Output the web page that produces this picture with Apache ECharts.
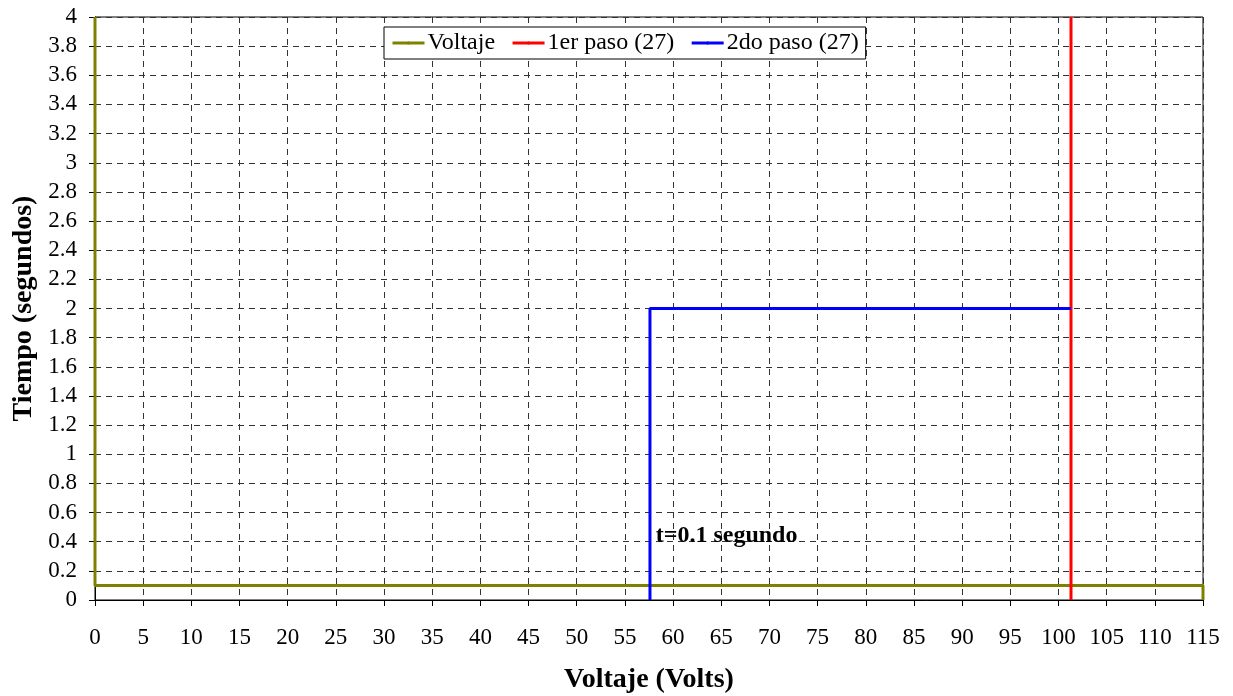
<!DOCTYPE html>
<html>
<head>
<meta charset="utf-8">
<script src="https://cdn.jsdelivr.net/npm/echarts@6/dist/echarts.min.js"></script>
<style>
  html, body { margin: 0; padding: 0; background: #fff; }
  #chart { width: 1233px; height: 696px; }
</style>
</head>
<body>
<div id="chart"></div>
<script>
// datos
const voltajeX = [0, 0, 115, 115]
const voltajeY = [4, 0.1, 0.1, 0]
const paso1X = [101.3, 101.3]
const paso1Y = [0, 4]
const paso2X = [57.6, 57.6, 101.3]
const paso2Y = [0, 2, 2]
const notaX = [58.2]
const notaY = [0.44]
const notaTexto = 't=0.1 segundo'

const font = 'Liberation Serif, Times New Roman, serif'
const zip = (xs, ys) => xs.map((x, i) => [x, ys[i]])

const chart = echarts.init(document.getElementById('chart'))

const option = {
  animation: false,
  backgroundColor: '#fff',
  textStyle: { fontFamily: font },
  grid: {
    left: 95, right: 30, top: 17, bottom: 96,
    outerBoundsMode: 'none',
    containLabel: false,
    show: true, borderColor: '#000', borderWidth: 1, backgroundColor: '#fff'
  },
  legend: {
    left: 384, top: 27,
    padding: [4, 7, 4, 7],
    borderColor: '#000', borderWidth: 1,
    backgroundColor: '#fff',
    itemWidth: 32, itemHeight: 4, itemGap: 16,
    lineStyle: { width: 3 },
    textStyle: { fontFamily: font, fontSize: 24, color: '#000', padding: [0, 0, 0, -2] },
    data: ['Voltaje', '1er paso (27)', '2do paso (27)']
  },
  xAxis: {
    type: 'value', min: 0, max: 115, interval: 5,
    name: 'Voltaje (Volts)', nameLocation: 'middle', nameGap: 66,
    nameTextStyle: { fontFamily: font, fontSize: 28, fontWeight: 'bold', color: '#000' },
    axisLine: { show: true, lineStyle: { color: '#000', width: 1 } },
    axisTick: { show: true, length: 6, lineStyle: { color: '#000' } },
    axisLabel: { fontFamily: font, fontSize: 23, color: '#000', margin: 26 },
    splitLine: { show: true, lineStyle: { color: '#333', type: [6, 5], width: 1 } }
  },
  yAxis: {
    type: 'value', min: 0, max: 4, interval: 0.2,
    name: 'Tiempo (segundos)', nameLocation: 'middle', nameGap: 55,
    nameTextStyle: { fontFamily: font, fontSize: 28, fontWeight: 'bold', color: '#000' },
    axisLine: { show: true, lineStyle: { color: '#000', width: 1 } },
    axisTick: { show: true, length: 6, lineStyle: { color: '#000' } },
    axisLabel: {
      fontFamily: font, fontSize: 23, color: '#000', margin: 18,
      formatter: v => String(Math.round(v * 10) / 10)
    },
    splitLine: { show: true, lineStyle: { color: '#333', type: [6, 5], width: 1 } }
  },
  series: [
    {
      name: 'Voltaje', type: 'line', symbol: 'none',
      data: zip(voltajeX, voltajeY),
      lineStyle: { color: '#808000', width: 3 }, itemStyle: { color: '#808000' }
    },
    {
      name: '1er paso (27)', type: 'line', symbol: 'none',
      data: zip(paso1X, paso1Y),
      lineStyle: { color: '#ff0000', width: 3 }, itemStyle: { color: '#ff0000' }
    },
    {
      name: '2do paso (27)', type: 'line', symbol: 'none',
      data: zip(paso2X, paso2Y),
      lineStyle: { color: '#0000ff', width: 3 }, itemStyle: { color: '#0000ff' }
    },
    {
      name: 'nota', type: 'scatter', symbolSize: 0,
      data: zip(notaX, notaY),
      itemStyle: { opacity: 1, color: '#000' },
      label: {
        show: true, position: 'right', distance: 0,
        formatter: notaTexto,
        fontFamily: font, fontSize: 24, fontWeight: 'bold', color: '#000',
        textBorderWidth: 0, opacity: 1
      },
      silent: true
    }
  ]
}

chart.setOption(option)
</script>
</body>
</html>
